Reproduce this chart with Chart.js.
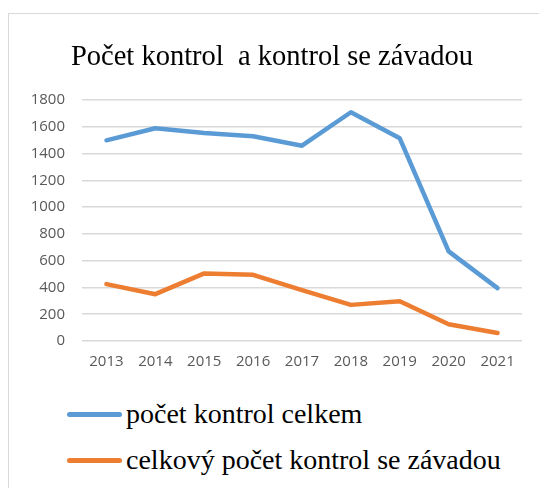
<!DOCTYPE html>
<html>
<head>
<meta charset="utf-8">
<script src="https://cdn.jsdelivr.net/npm/chart.js@4.4.0/dist/chart.umd.min.js"></script>
<style>
  body { margin: 0; background: #fff; }
  #wrap { position: relative; width: 539px; height: 488px; overflow: hidden; }
  #frame { position: absolute; left: 8px; top: 13px; width: 600px; height: 600px;
           border-left: 1px solid #d9d9d9; border-top: 1px solid #d9d9d9; }
  #box { position: absolute; left: 0; top: 0; width: 539px; height: 380px; }
  #legend { position: absolute; left: 67px; top: 391px; font-family: "Liberation Serif", serif;
            font-size: 28px; color: #000; }
  .item { display: flex; align-items: center; height: 46px; }
  .swatch { width: 55px; height: 5px; border-radius: 3px; margin-right: 4px; }
</style>
</head>
<body>
<div id="wrap">
  <div id="frame"></div>
  <div id="box"><canvas id="myChart"></canvas></div>
  <div id="legend"></div>
</div>
<script>
const years = ["2013", "2014", "2015", "2016", "2017", "2018", "2019", "2020", "2021"];
const kontrolCelkem = [1500, 1590, 1555, 1530, 1460, 1710, 1515, 670, 395];
const kontrolSeZavadou = [425, 350, 505, 495, 380, 270, 297, 125, 60];
const yTicks = [0, 200, 400, 600, 800, 1000, 1200, 1400, 1600, 1800];

const colors = ['#5B9BD5', '#ED7D31'];

const ctx = document.getElementById("myChart").getContext("2d");

let chart = new Chart(ctx, {
    type: 'line',
    data: {
        labels: years,
        datasets: [{
            label: 'počet kontrol celkem',
            data: kontrolCelkem,
            borderColor: colors[0],
            backgroundColor: colors[0],
            borderWidth: 4.5,
            pointRadius: 0,
            borderCapStyle: 'round',
            borderJoinStyle: 'round',
            tension: 0
        }, {
            label: 'celkový počet kontrol se závadou',
            data: kontrolSeZavadou,
            borderColor: colors[1],
            backgroundColor: colors[1],
            borderWidth: 4.5,
            pointRadius: 0,
            borderCapStyle: 'round',
            borderJoinStyle: 'round',
            tension: 0
        }]
    },
    options: {
        responsive: true,
        maintainAspectRatio: false,
        animation: false,
        layout: { padding: { top: 13, left: 22, right: 17, bottom: 0 } },
        plugins: {
            legend: { display: false },
            tooltip: { enabled: false },
            title: {
                display: true,
                text: 'Počet kontrol  a kontrol se závadou',
                color: '#000',
                font: { family: "Liberation Serif", size: 28.5, weight: 'normal' },
                padding: { top: 27, bottom: 26 }
            }
        },
        scales: {
            x: {
                offset: true,
                grid: { display: false, drawTicks: false },
                border: { display: false },
                ticks: { color: '#595959', padding: 12, font: { family: "Open Sans", size: 15 } },
                afterFit: (s) => { s.height = 39; }
            },
            y: {
                min: 0,
                max: 1800,
                afterBuildTicks: (s) => { s.ticks = yTicks.map(v => ({ value: v })); },
                grid: { color: '#d9d9d9', lineWidth: 1.5, drawTicks: false },
                border: { display: false },
                ticks: {
                    color: '#595959', padding: 17, font: { family: "Open Sans", size: 15 },
                    callback: (v) => String(v)
                },
                afterFit: (s) => { s.width = 60; }
            }
        }
    }
});

// legenda pod grafem
const legend = document.getElementById("legend");
chart.data.datasets.forEach(ds => {
    const item = document.createElement("div");
    item.className = "item";
    const sw = document.createElement("span");
    sw.className = "swatch";
    sw.style.background = ds.borderColor;
    const txt = document.createElement("span");
    txt.textContent = ds.label;
    item.appendChild(sw);
    item.appendChild(txt);
    legend.appendChild(item);
});
</script>
</body>
</html>
